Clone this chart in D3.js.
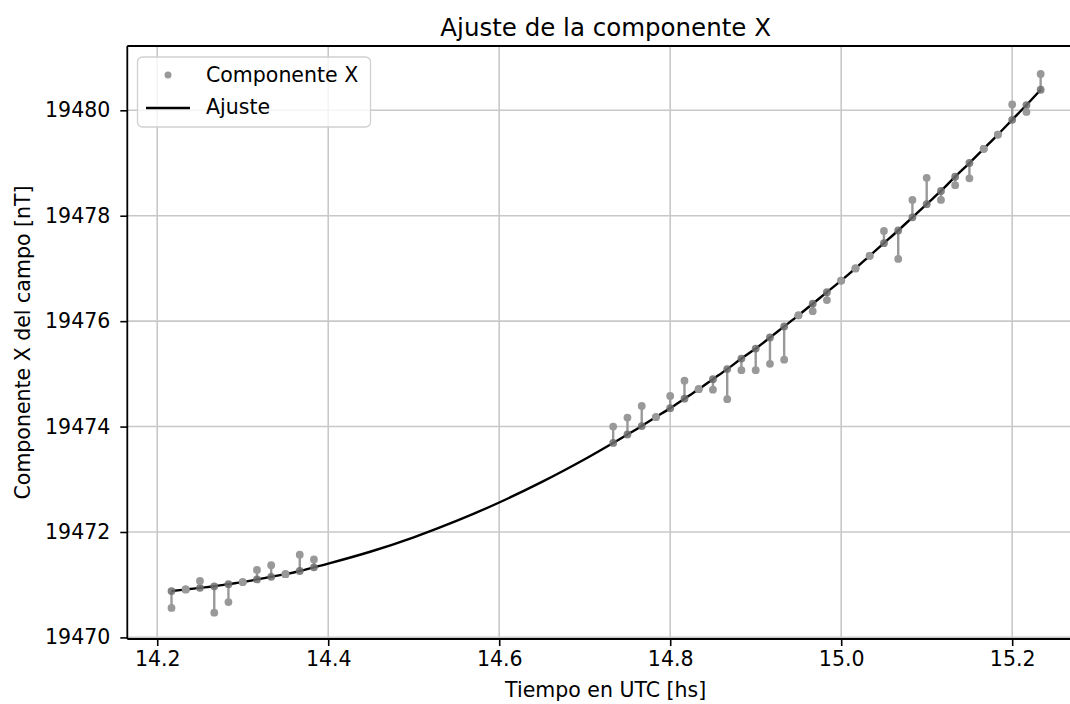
<!DOCTYPE html>
<html>
<head>
<meta charset="utf-8">
<script src="https://cdn.jsdelivr.net/npm/d3@7"></script>
<style>
  html, body { margin: 0; padding: 0; background: #ffffff; }
  svg { display: block; font-family: "DejaVu Sans", sans-serif; }
</style>
</head>
<body>
<svg id="chart" width="1070" height="704"></svg>
<script>
// ---- data (time in hours UTC, component X in nT) ----
const times = [
  14.2167, 14.2333, 14.2500, 14.2667, 14.2833, 14.3000, 14.3167, 14.3333, 14.3500, 14.3667, 14.3833,
  14.7333, 14.7500, 14.7667, 14.7833, 14.8000, 14.8167, 14.8333, 14.8500, 14.8667, 14.8833,
  14.9000, 14.9167, 14.9333, 14.9500, 14.9667, 14.9833, 15.0000, 15.0167, 15.0333, 15.0500,
  15.0667, 15.0833, 15.1000, 15.1167, 15.1333, 15.1500, 15.1667, 15.1833, 15.2000, 15.2167, 15.2333
];
const measured = [
  19470.56, 19470.91, 19471.07, 19470.47, 19470.67, 19471.05, 19471.28, 19471.37, 19471.20, 19471.57, 19471.48,
  19474.00, 19474.17, 19474.39, 19474.18, 19474.58, 19474.87, 19474.71, 19474.70, 19474.52, 19475.07,
  19475.07, 19475.19, 19475.27, 19476.11, 19476.19, 19476.40, 19476.77, 19477.00, 19477.24, 19477.71,
  19477.18, 19478.30, 19478.72, 19478.30, 19478.58, 19478.71, 19479.27, 19479.54, 19480.11, 19479.97, 19480.69
];
const fitted = [
  19470.88, 19470.91, 19470.94, 19470.97, 19471.01, 19471.05, 19471.10, 19471.15, 19471.20, 19471.26, 19471.33,
  19473.69, 19473.85, 19474.01, 19474.18, 19474.35, 19474.53, 19474.71, 19474.90, 19475.09, 19475.29,
  19475.48, 19475.69, 19475.90, 19476.11, 19476.33, 19476.55, 19476.77, 19477.00, 19477.24, 19477.48,
  19477.72, 19477.97, 19478.22, 19478.47, 19478.74, 19479.00, 19479.27, 19479.54, 19479.82, 19480.10, 19480.39
];
// fitted curve read in the gap without measurements
const gapTimes = [14.40, 14.45, 14.50, 14.55, 14.60, 14.65, 14.70];
const gapFit   = [19471.40, 19471.63, 19471.90, 19472.21, 19472.56, 19472.95, 19473.38];

const xTicks = [14.2, 14.4, 14.6, 14.8, 15.0, 15.2];
const yTicks = [19470, 19472, 19474, 19476, 19478, 19480];

const titleText = "Ajuste de la componente X";
const xLabel = "Tiempo en UTC [hs]";
const yLabel = "Componente X del campo [nT]";
const legendLabels = ["Componente X", "Ajuste"];

// ---- layout ----
const svg = d3.select("#chart");
const L = 127.3, R = 1084, T = 46, B = 639;

const x = d3.scaleLinear().domain([14.165, 15.284]).range([L, R]);
const y = d3.scaleLinear().domain([19469.97, 19481.22]).range([B, T]);

const points = times.map((t, i) => ({t, v: measured[i], f: fitted[i]}));
const curvePts = times.map((t, i) => ({t, f: fitted[i]}))
  .concat(gapTimes.map((t, i) => ({t, f: gapFit[i]})))
  .sort((a, b) => a.t - b.t);

// grid
const grid = svg.append("g");
grid.selectAll("line.gx").data(xTicks).join("line")
  .attr("x1", d => x(d)).attr("x2", d => x(d))
  .attr("y1", T).attr("y2", B)
  .attr("stroke", "#c8c8c8").attr("stroke-width", 1.6);
grid.selectAll("line.gy").data(yTicks).join("line")
  .attr("x1", L).attr("x2", R)
  .attr("y1", d => y(d)).attr("y2", d => y(d))
  .attr("stroke", "#c8c8c8").attr("stroke-width", 1.6);

// axes
const fontSize = 20.5;
const xAxis = svg.append("g").attr("transform", `translate(0,${B})`)
  .call(d3.axisBottom(x).tickValues(xTicks).tickFormat(d3.format(".1f")).tickSizeInner(7).tickSizeOuter(0).tickPadding(5));
const yAxis = svg.append("g").attr("transform", `translate(${L},0)`)
  .call(d3.axisLeft(y).tickValues(yTicks).tickFormat(d3.format("d")).tickSizeInner(7).tickSizeOuter(0).tickPadding(10));
[xAxis, yAxis].forEach(a => {
  a.select(".domain").remove();
  a.selectAll(".tick line").attr("stroke", "#000").attr("stroke-width", 1.6);
  a.selectAll(".tick text").attr("fill", "#000")
    .style("font-family", "DejaVu Sans").style("font-size", fontSize + "px");
});

// stems between measurement and fit
const marks = svg.append("g");
marks.selectAll("line.stem").data(points).join("line")
  .attr("x1", d => x(d.t)).attr("x2", d => x(d.t))
  .attr("y1", d => y(d.v)).attr("y2", d => y(d.f))
  .attr("stroke", "#999999").attr("stroke-width", 2.4);

// fitted curve
const line = d3.line().x(d => x(d.t)).y(d => y(d.f)).curve(d3.curveCatmullRom);
marks.append("path").datum(curvePts)
  .attr("d", line).attr("fill", "none").attr("stroke", "#000").attr("stroke-width", 2.4);

// fit-side dots
marks.selectAll("circle.fit").data(points).join("circle")
  .attr("cx", d => x(d.t)).attr("cy", d => y(d.f)).attr("r", 3.9)
  .attr("fill", "#6f6f6f").attr("fill-opacity", 0.85);

// measurement dots
marks.selectAll("circle.meas").data(points).join("circle")
  .attr("cx", d => x(d.t)).attr("cy", d => y(d.v)).attr("r", 3.9)
  .attr("fill", "#999999");

// spines
[[L, L, T, B], [L, R, B, B], [L, R, T, T], [R, R, T, B]].forEach(s => {
  svg.append("line").attr("x1", s[0]).attr("x2", s[1]).attr("y1", s[2]).attr("y2", s[3])
    .attr("stroke", "#000").attr("stroke-width", 1.8);
});

// title & labels
svg.append("text").attr("x", (L + R) / 2).attr("y", 36).attr("text-anchor", "middle")
  .style("font-size", "24.5px").attr("fill", "#000").text(titleText);
svg.append("text").attr("x", (L + R) / 2).attr("y", 697).attr("text-anchor", "middle")
  .style("font-size", fontSize + "px").attr("fill", "#000").text(xLabel);
svg.append("text").attr("transform", `translate(30,${(T + B) / 2}) rotate(-90)`)
  .attr("text-anchor", "middle").style("font-size", fontSize + "px").attr("fill", "#000").text(yLabel);

// legend
const lg = svg.append("g");
lg.append("rect").attr("x", 137.5).attr("y", 57).attr("width", 233).attr("height", 70).attr("rx", 5)
  .attr("fill", "#fff").attr("fill-opacity", 0.8).attr("stroke", "#d0d0d0").attr("stroke-width", 1.3);
lg.append("circle").attr("cx", 168).attr("cy", 75).attr("r", 3.5).attr("fill", "#999999");
lg.append("line").attr("x1", 146).attr("x2", 190).attr("y1", 108).attr("y2", 108)
  .attr("stroke", "#000").attr("stroke-width", 2.4);
lg.selectAll("text.lt").data(legendLabels).join("text")
  .attr("x", 206).attr("y", (d, i) => i === 0 ? 81.5 : 113.5)
  .style("font-size", fontSize + "px").attr("fill", "#000").text(d => d);
</script>
</body>
</html>
